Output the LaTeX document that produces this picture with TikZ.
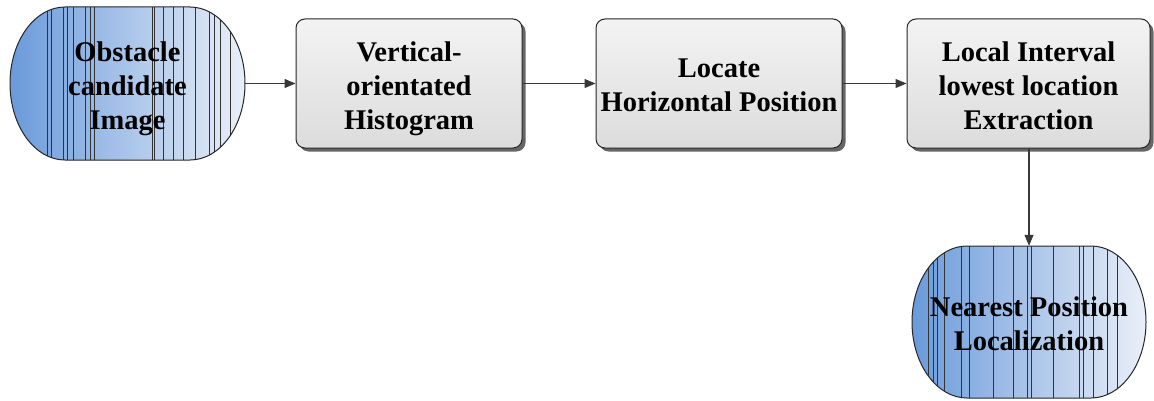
\documentclass[tikz,border=0pt]{standalone}
\usepackage{fontspec}
\setmainfont{Liberation Serif}
\usetikzlibrary{arrows.meta,shadows}

% Stadium outline: centre (#1,#2), width #3, height #4, cap x radius #5
\newcommand\stadiumoutline[5]{%
  (#1-#3/2+#5,#2+#4/2) -- (#1+#3/2-#5,#2+#4/2)
  arc[start angle=90,end angle=-90,x radius=#5,y radius=#4/2]
  -- (#1-#3/2+#5,#2-#4/2)
  arc[start angle=270,end angle=90,x radius=#5,y radius=#4/2] -- cycle}

% Shaded stadium with thin vertical streaks at the given x positions (#6)
\newcommand\stadiumfill[6]{%
  \shade[left color=stadL,right color=stadR] \stadiumoutline{#1}{#2}{#3}{#4}{#5};
  \begin{scope}
    \clip \stadiumoutline{#1}{#2}{#3}{#4}{#5};
    \foreach \sx in {#6} \draw[streak] (\sx,#2-#4/2) -- (\sx,#2+#4/2);
  \end{scope}
  \draw[line width=1pt,black!85] \stadiumoutline{#1}{#2}{#3}{#4}{#5};
}

\definecolor{stadL}{HTML}{6A9ADB}
\definecolor{stadR}{HTML}{EAEFF8}
\definecolor{boxT}{HTML}{F3F3F3}
\definecolor{boxB}{HTML}{DCDCDC}
\definecolor{wire}{HTML}{383838}

\tikzset{
  lbl/.style={font=\bfseries\fontsize{28.5}{34}\selectfont, align=center, inner sep=0pt},
  procbox/.style={lbl, rectangle, rounded corners=9pt, draw=black!85, line width=1pt,
    top color=boxT, bottom color=boxB, minimum height=129pt,
    drop shadow={shadow xshift=3.5pt, shadow yshift=-3.5pt, fill=black!60, opacity=1}},
  streak/.style={line width=0.5pt, black!80},
  flow/.style={draw=wire, line width=1.1pt, -{Triangle[length=11pt,width=9pt]}},
  txt/.style={lbl, text depth=0pt, yshift=-2pt},
}

\begin{document}
\begin{tikzpicture}[x=1pt,y=1pt]
  \useasboundingbox (0,0) rectangle (1154,400);

  % input stadium
  \stadiumfill{127.5}{316.5}{235}{153}{55}{47,51,63,67,73,85,90,94,152,154,163,173,183,195,209,214,220,230}
  \node[lbl, minimum width=235pt, minimum height=153pt] (n1) at (127.5,316.5) {};
  \node[txt] at (n1) {Obstacle\\candidate\\Image};

  % processing steps
  \node[procbox, minimum width=226pt] (n2) at (409,316.5) {};
  \node[txt] at (n2) {Vertical-\\orientated\\Histogram};
  \node[procbox, minimum width=246pt] (n3) at (719,316.5) {};
  \node[txt] at (n3) {Locate\\Horizontal Position};
  \node[procbox, minimum width=243pt] (n4) at (1028.5,316.5) {};
  \node[txt] at (n4) {Local Interval\\lowest location\\Extraction};

  % output stadium
  \stadiumfill{1029}{78}{234}{152}{55}{928,933,937,944,961,969,993,1013,1027,1031,1053,1079,1083,1093,1107,1117}
  \node[lbl, minimum width=234pt, minimum height=152pt] (n5) at (1029,78) {};
  \node[txt] at (n5) {Nearest Position\\Localization};

  % connectors
  \draw[flow] (n1.east) -- (n2.west);
  \draw[flow] (n2.east) -- (n3.west);
  \draw[flow] (n3.east) -- (n4.west);
  \draw[flow] (n4.south -| n5.north) -- (n5.north);
\end{tikzpicture}
\end{document}
